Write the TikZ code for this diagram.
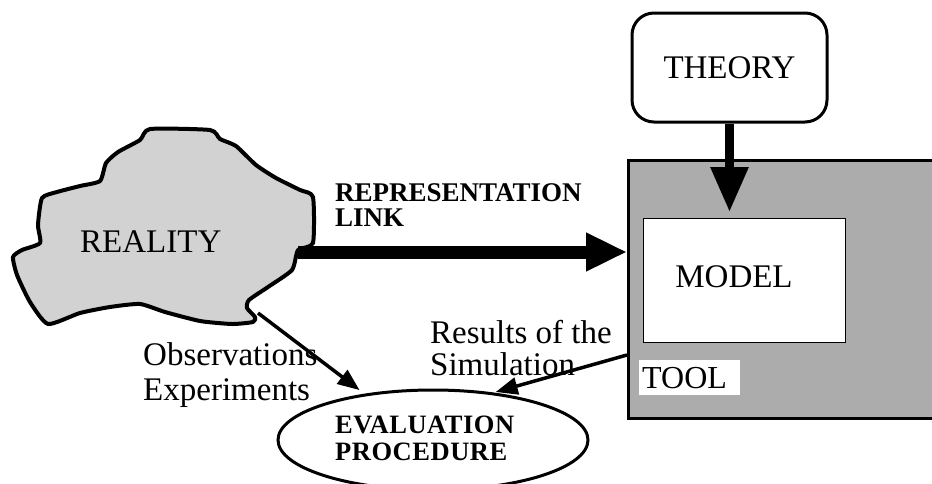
\documentclass[tikz,border=0pt]{standalone}
\usepackage{fontspec}
\setmainfont{Liberation Serif}
\newfontfamily\evfont[LetterSpace=2]{Liberation Serif}
\usetikzlibrary{arrows.meta,shapes.geometric}
\begin{document}
\begin{tikzpicture}[x=1pt,y=-1pt,
  txtlab/.style={font=\fontsize{33}{35}\selectfont, inner sep=0pt, anchor=base west},
  replab/.style={font=\bfseries\fontsize{27}{28}\selectfont, inner sep=0pt, anchor=base west, text height=18pt, text depth=0pt},
  evallab/.style={font=\evfont\bfseries\fontsize{26.5}{27}\selectfont, inner sep=0pt, anchor=base west, text height=17pt, text depth=0pt},
  bigarrow/.style={draw=black, line width=13pt, -{Triangle[length=41pt,width=36pt]}},
  thinarrow/.style={draw=black, line width=3.5pt, -{Triangle[length=22pt,width=17pt]}}
]
\useasboundingbox (0,0) rectangle (932,483);
% Reality blob
\draw[line width=4pt, fill=gray!35, line join=round]
  plot[smooth cycle, tension=0.35] coordinates {(150,129) (210,130) (220,139) (236,146) (256,165) (276,178) (300,190) (313,197) (313,243) (298,250) (292,270) (268,287) (249,300) (247,308) (255,317) (253,322) (232,324) (200,321) (165,312) (140,304) (110,307) (80,313) (48,324) (30,302) (17,275) (13,257) (22,250) (40,243) (38,225) (42,198) (57,192) (80,186) (100,181) (106,163) (118,152) (140,140)};
\node[txtlab] (realitytxt) at (80,252) {REALITY};
\coordinate (realE) at (298,252);
\coordinate (realSE) at (258,313);
% Tool box
\node[draw, line width=2.5pt, fill=gray!65, minimum width=330pt, minimum height=258pt, anchor=north west, inner sep=0pt] (tool) at (627,159) {};
\node[draw, line width=1pt, fill=white, minimum width=202pt, minimum height=124pt, anchor=north west, inner sep=0pt] (model) at (643,218) {};
\node[txtlab, anchor=base] (modeltxt) at (734,287) {MODEL};
\node[fill=white, font=\fontsize{32}{34}\selectfont, inner xsep=3pt, inner ysep=0pt, text width=95pt, minimum height=35pt, anchor=north west, align=left] (toollab) at (639,360) {TOOL};
% Theory
\node[draw, rounded corners=22pt, line width=3pt, minimum width=195pt, minimum height=109pt, font=\fontsize{33}{35}\selectfont, inner sep=0pt] (theory) at (729.5,67.5) {THEORY};
\draw[line width=9pt, -{Triangle[length=45pt,width=36pt]}] (theory.south) -- ([yshift=6pt]theory.south |- model.north);
% Representation link
\draw[bigarrow] (realE) -- (tool.west |- realE);
\node[replab] (rep1) at (335,201) {REPRESENTATION};
\node[replab] (rep2) at (335,226) {LINK};
% Evaluation
\node[draw, ellipse, line width=3pt, minimum width=310pt, minimum height=100pt, inner sep=0pt] (evalell) at (433,440) {};
\node[evallab] (ev1) at (335,433) {EVALUATION};
\node[evallab] (ev2) at (335,460) {PROCEDURE};
% Labels
\node[txtlab] (obs) at (143,365) {Observations};
\node[txtlab] (exp) at (143,400) {Experiments};
\node[txtlab] (res1) at (430,343) {Results of the};
\node[txtlab] (res2) at (430,375) {Simulation};
% Thin arrows
\draw[thinarrow, shorten >=6pt] (realSE) -- (evalell.146);
\draw[thinarrow, shorten >=2pt] (tool.west |- 0,355) -- (evalell.38);
\end{tikzpicture}
\end{document}
